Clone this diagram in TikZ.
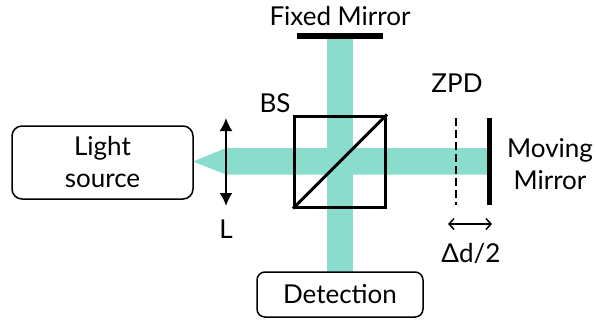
\documentclass[tikz,border=0pt]{standalone}
\usepackage{fontspec}
\setmainfont{Lato}
\usetikzlibrary{arrows.meta}
\definecolor{beam}{RGB}{138,220,204}
\begin{document}
\begin{tikzpicture}[x=1pt,y=-1pt,
  lbl/.style={font=\fontsize{26}{32}\selectfont, inner sep=0pt},
  roundbox/.style={draw, line width=1.5pt, rounded corners=10pt, align=center, font=\fontsize{26}{32}\selectfont},
  mirror/.style={fill=black, inner sep=0pt}]
\useasboundingbox (0,0) rectangle (596,325);
% beams
\fill[beam] (193,161.5) -- (226,148) -- (488,148) -- (488,174.5) -- (226,174.5) -- cycle;
\fill[beam] (327,39) rectangle (353,272);
% nodes
\node[roundbox, minimum width=181pt, minimum height=73pt] (ls) at (102.5,162.5) {Light\\source};
\node[roundbox, minimum width=166pt, minimum height=45pt, rounded corners=8pt] (det) at (340,294.5) {Detection};
\node[draw, line width=3pt, minimum size=91pt, inner sep=0pt] (bs) at (340,161.5) {};
\draw[line width=3pt] (bs.south west) -- (bs.north east);
\node[mirror, minimum width=86pt, minimum height=6pt] (fm) at (340,36) {};
\node[mirror, minimum width=5.5pt, minimum height=87pt] (mm) at (489.5,161.5) {};
% lens
\coordinate (lt) at (226,118);
\coordinate (lb) at (226,206);
\draw[line width=2pt, {Latex[length=13pt,width=13pt]}-{Latex[length=13pt,width=13pt]}] (lt) -- (lb);
% ZPD dashed line
\coordinate (zt) at (456,118);
\coordinate (zb) at (456,205);
\draw[line width=1.5pt, dash pattern=on 8pt off 4pt] (zt) -- (zb);
% delta arrow
\coordinate (da) at (448,224);
\coordinate (db) at (492,224);
\draw[line width=1.5pt, {Straight Barb[length=5pt,width=11pt]}-{Straight Barb[length=5pt,width=11pt]}] (da) -- (db);
% labels
\node[lbl, anchor=base] (tfm) at (340,25) {Fixed Mirror};
\node[lbl, anchor=base] (tbs) at (275,112) {BS};
\node[lbl, anchor=base] (tl) at (226,238) {L};
\node[lbl, anchor=base] (tz) at (457,92) {ZPD};
\node[lbl, anchor=base] (td) at (471,262) {Δd/2};
\node[lbl, anchor=base, align=center] (tmm) at (550,189) {Moving\\Mirror};
\end{tikzpicture}
\end{document}
